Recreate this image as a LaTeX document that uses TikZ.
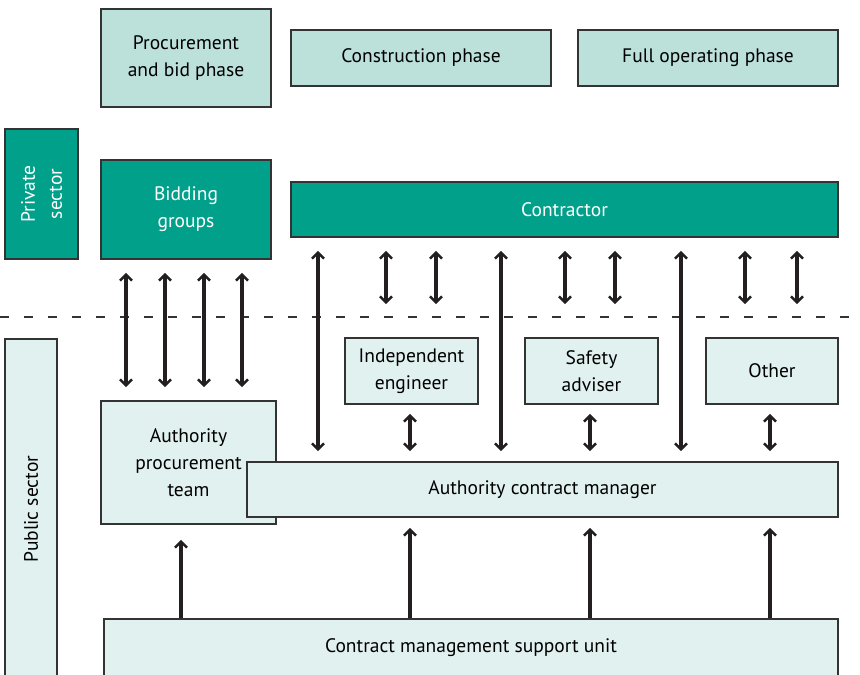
\documentclass[tikz,border=0pt]{standalone}
\usepackage{fontspec}
\setmainfont{PT Sans}
\usetikzlibrary{arrows.meta}
\definecolor{darkteal}{HTML}{00A08A}
\definecolor{midteal}{HTML}{BCE0DA}
\definecolor{paleteal}{HTML}{E1F1EF}
\definecolor{edgegray}{HTML}{333333}
\definecolor{arrowblack}{HTML}{231F20}

\begin{document}
\begin{tikzpicture}[x=1pt,y=-1pt,
    font=\fontsize{19.5}{27}\selectfont,
    box/.style={draw=edgegray,line width=1.6pt,inner sep=0pt,align=center},
    phasebox/.style={box,fill=midteal},
    privbox/.style={box,fill=darkteal,text=white},
    pubbox/.style={box,fill=paleteal},
    link/.style={line width=3.2pt,draw=arrowblack,
      arrows={Straight Barb[length=6pt,width=12pt,line width=2.6pt]-Straight Barb[length=6pt,width=12pt,line width=2.6pt]}},
    uplink/.style={line width=3.2pt,draw=arrowblack,
      arrows={-Straight Barb[length=6pt,width=12pt,line width=2.6pt]}}]
      \useasboundingbox (0,0) rectangle (860,675);
      \begin{scope}
      \clip (0,0) rectangle (860,675);
      % phases
      \node[phasebox,minimum width=170pt,minimum height=98pt] (bidphase) at (186,58) {Procurement\\and bid phase};
      \node[phasebox,minimum width=260pt,minimum height=56pt] (buildphase) at (421,58) {Construction phase};
      \node[phasebox,minimum width=260pt,minimum height=56pt] (runphase) at (708,58) {Full operating phase};
      % private sector
      \node[privbox,rotate=90,minimum width=130pt,minimum height=73pt] (private) at (41.5,194) {Private\\sector};
      \node[privbox,minimum width=170pt,minimum height=99pt] (bidders) at (186,209.5) {Bidding\\groups};
      \node[privbox,minimum width=547pt,minimum height=55pt] (contractor) at (564.5,209.5) {Contractor};
      % boundary
      \draw[edgegray,line width=2.2pt,dash pattern=on 9pt off 15pt] (0,317) -- (860,317);
      % public sector
      \node[pubbox,rotate=90,minimum width=340pt,minimum height=52pt] (public) at (31,509) {Public sector};
      \node[pubbox,minimum width=133pt,minimum height=66pt] (engineer) at (411.5,371) {Independent\\engineer};
      \node[pubbox,minimum width=133pt,minimum height=66pt] (safety) at (591.5,371) {Safety\\adviser};
      \node[pubbox,minimum width=132pt,minimum height=66pt] (other) at (772,371) {Other};
      \node[pubbox,minimum width=175pt,minimum height=123pt] (procteam) at (188.5,462.5) {Authority\\procurement\\team};
      \node[pubbox,minimum width=591pt,minimum height=55pt] (manager) at (542.5,489.5) {Authority contract manager};
      \node[pubbox,minimum width=734pt,minimum height=58pt] (support) at (471,648) {Contract management support unit};
      \end{scope}
      % bidding groups to procurement team
      \draw[link,shorten <=13pt,shorten >=13pt] (126,0 |- bidders.south) -- (126,0 |- procteam.north);
      \draw[link,shorten <=13pt,shorten >=13pt] (165,0 |- bidders.south) -- (165,0 |- procteam.north);
      \draw[link,shorten <=13pt,shorten >=13pt] (204,0 |- bidders.south) -- (204,0 |- procteam.north);
      \draw[link,shorten <=13pt,shorten >=13pt] (242,0 |- bidders.south) -- (242,0 |- procteam.north);
      % contractor to contract manager
      \draw[link,shorten <=13pt,shorten >=10pt] (318,0 |- contractor.south) -- (318,0 |- manager.north);
      \draw[link,shorten <=13pt,shorten >=10pt] (501,0 |- contractor.south) -- (501,0 |- manager.north);
      \draw[link,shorten <=13pt,shorten >=10pt] (681,0 |- contractor.south) -- (681,0 |- manager.north);
      % contractor to advisers
      \draw[link,shorten <=13pt,shorten >=33pt] (386,0 |- contractor.south) -- (386,0 |- engineer.north);
      \draw[link,shorten <=13pt,shorten >=33pt] (436,0 |- contractor.south) -- (436,0 |- engineer.north);
      \draw[link,shorten <=13pt,shorten >=33pt] (565,0 |- contractor.south) -- (565,0 |- safety.north);
      \draw[link,shorten <=13pt,shorten >=33pt] (615,0 |- contractor.south) -- (615,0 |- safety.north);
      \draw[link,shorten <=13pt,shorten >=33pt] (745,0 |- contractor.south) -- (745,0 |- other.north);
      \draw[link,shorten <=13pt,shorten >=33pt] (797,0 |- contractor.south) -- (797,0 |- other.north);
      % advisers to contract manager
      \draw[link,shorten <=9pt,shorten >=10pt] (410,0 |- engineer.south) -- (410,0 |- manager.north);
      \draw[link,shorten <=9pt,shorten >=10pt] (590,0 |- safety.south) -- (590,0 |- manager.north);
      \draw[link,shorten <=9pt,shorten >=10pt] (770,0 |- other.south) -- (770,0 |- manager.north);
      % support unit
      \draw[uplink,shorten >=15pt] (181,0 |- support.north) -- (181,0 |- procteam.south);
      \draw[uplink,shorten >=10pt] (410,0 |- support.north) -- (410,0 |- manager.south);
      \draw[uplink,shorten >=10pt] (590,0 |- support.north) -- (590,0 |- manager.south);
      \draw[uplink,shorten >=10pt] (770,0 |- support.north) -- (770,0 |- manager.south);
    \end{tikzpicture}
\end{document}
